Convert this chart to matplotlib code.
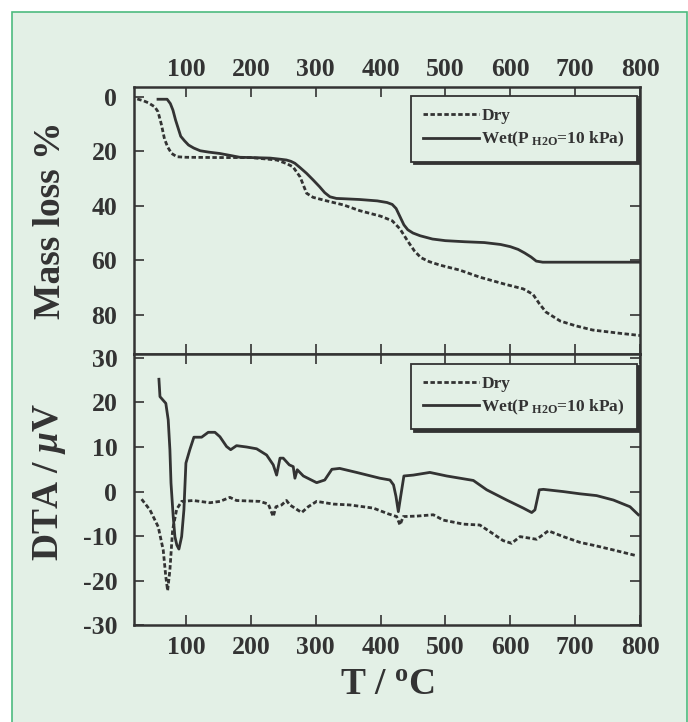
# mass loss and DTA curves, dry vs wet atmosphere

import matplotlib
matplotlib.use("Agg")
import matplotlib.pyplot as plt
from matplotlib.patches import Rectangle

# ---- data ----
dry_T = [25, 35, 42, 52, 57, 62, 67, 72, 78, 86, 100, 150, 200, 240, 255, 265, 276, 286, 296,
         317, 343, 368, 400, 418, 430, 442, 452, 462, 475, 492, 522, 553, 592, 620, 635, 645,
         655, 665, 677, 700, 727, 769, 800]
dry_M = [0.8, 1.5, 2.2, 3.7, 5.5, 10, 15.5, 18.5, 20.8, 22, 22.2, 22.3, 22.3, 23.2, 24.5, 25.7,
         29.4, 35.4, 36.9, 38.2, 39.7, 41.8, 43.8, 45.5, 48.5, 53, 56.5, 59, 60.5, 61.8, 63.6,
         66.2, 68.8, 70.5, 72.5, 76, 79, 80.5, 82.3, 84, 85.6, 86.8, 87.6]

wet_T = [57, 71, 76, 80, 84, 88, 92, 98, 104, 112, 122, 135, 152, 170, 183, 200, 230, 245, 255,
         262, 268, 276, 286, 296, 306, 314, 322, 332, 342, 368, 395, 410, 418, 424, 430, 436,
         442, 450, 461, 480, 500, 530, 560, 585, 600, 612, 622, 632, 640, 650, 700, 800]
wet_M = [0.9, 0.9, 2.5, 4.9, 8.5, 11.5, 14.5, 16.2, 17.7, 18.8, 19.8, 20.3, 20.8, 21.6, 22.2,
         22.3, 22.5, 22.9, 23.2, 23.7, 24.4, 26, 28.1, 30.5, 33, 35.2, 36.7, 37.3, 37.4, 37.7,
         38.2, 38.8, 39.5, 41, 44, 47, 48.8, 50, 51, 52.2, 52.8, 53.2, 53.5, 54.2, 55, 56, 57.3,
         58.8, 60.3, 60.7, 60.7, 60.7]

dta_wet_T = [58.4, 60, 69, 72.7, 75.3, 77, 80.4, 83, 86, 89.2, 93.4, 96.9, 100, 106, 112.3, 124.2,
             134.4, 144.7, 152.4, 162.7, 169, 178, 193.6, 209, 224.4, 234.6, 239.8, 245, 250,
             259.3, 265.4, 268, 271.6, 281, 301.5, 314, 325, 337, 363, 399, 414.5, 420, 423.8,
             427.4, 431, 436, 450.5, 476, 502, 543, 563.6, 594.5, 620, 633, 638, 644.7, 651,
             681.7, 707.5, 733, 759, 784.5, 797.4]
dta_wet = [25.2, 21.3, 19.8, 16.1, 9.4, 1.9, -5.6, -10.1, -12, -12.9, -10.1, -4.1, 6.4, 9.4, 12.2,
           12.2, 13.3, 13.3, 12.3, 10.1, 9.4, 10.3, 10.0, 9.6, 8.2, 6.0, 3.7, 7.5, 7.5, 6.0, 5.6,
           3.0, 4.9, 3.5, 2.0, 2.6, 5.0, 5.2, 4.3, 3.0, 2.6, 1.5, -1.1, -4.5, -1.1, 3.5, 3.7, 4.3,
           3.5, 2.5, 0.4, -1.9, -3.7, -4.7, -4.1, 0.4, 0.5, 0, -0.5, -0.9, -1.9, -3.4, -5.2]

dta_dry_T = [31.7, 44.5, 57.3, 65, 69, 71.8, 75.3, 79.5, 85.7, 93.4, 111.3, 137, 152.4, 167.8,
             178, 214, 227, 234.6, 238.8, 247.5, 255, 260.3, 278.4, 288.5, 301.5, 327, 352.8,
             388.8, 412, 424.8, 430, 435, 455.7, 481.3, 496.7, 527.6, 553, 568.7, 589, 602, 615,
             640.7, 658.6, 681.7, 707.5, 733, 759, 795]
dta_dry = [-1.7, -4.1, -7.9, -13.1, -19.1, -22.2, -17.6, -8.6, -4.0, -2.2, -2.0, -2.5, -2.2, -1.3,
           -2.0, -2.2, -2.8, -5.6, -3.4, -3.0, -2.0, -3.0, -4.7, -3.4, -2.2, -2.8, -3.0, -3.7,
           -5.0, -5.6, -7.5, -5.6, -5.5, -5.2, -6.4, -7.3, -7.5, -9.0, -11.0, -11.6, -10.1, -10.7,
           -8.8, -10.1, -11.4, -12.2, -13.1, -14.4]

x_ticks = [100, 200, 300, 400, 500, 600, 700, 800]
mass_ticks = [0, 20, 40, 60, 80]
dta_ticks = [-30, -20, -10, 0, 10, 20, 30]

label_dry = "Dry"
label_wet = r"Wet(P$_{\ \mathrm{H2O}}$=10 kPa)"

# ---- style ----
bg = "#e3f0e6"
ink = "#333333"
plt.rcParams["font.family"] = "Liberation Serif"
plt.rcParams["font.weight"] = "bold"
plt.rcParams["axes.unicode_minus"] = False
plt.rcParams["mathtext.fontset"] = "custom"
plt.rcParams["mathtext.rm"] = "Liberation Serif:bold"
plt.rcParams["mathtext.bf"] = "Liberation Serif:bold"
plt.rcParams["mathtext.it"] = "Liberation Serif:italic:bold"

fig = plt.figure(figsize=(6.88, 7.22), dpi=100, facecolor="white")
frame = Rectangle((12 / 688, -0.01), 675 / 688, 0.994, transform=fig.transFigure,
                  facecolor=bg, edgecolor="#4dbb7f", lw=1.2, zorder=-10)
fig.patches.append(frame)

ax1 = fig.add_axes([0.1948, 0.5093, 0.7355, 0.3706])
ax2 = fig.add_axes([0.1948, 0.1339, 0.7355, 0.3754])

dash = (0, (1.6, 0.9))

ax1.plot(dry_T, dry_M, color=ink, lw=2.0, ls=dash, label=label_dry)
ax1.plot(wet_T, wet_M, color=ink, lw=2.0, label=label_wet)
ax2.plot(dta_dry_T, dta_dry, color=ink, lw=2.0, ls=dash, label=label_dry)
ax2.plot(dta_wet_T, dta_wet, color=ink, lw=2.0, label=label_wet)

ax1.set_xlim(20, 800)
ax1.set_ylim(94.5, -3.7)
ax2.set_xlim(20, 800)
ax2.set_ylim(-30, 30.8)

for ax in (ax1, ax2):
    ax.set_facecolor(bg)
    ax.set_xticks(x_ticks)
    for s in ax.spines.values():
        s.set_linewidth(1.8)
        s.set_color(ink)
    ax.tick_params(direction="in", length=7, width=1.2, color=ink,
                   top=True, bottom=True, left=True, right=True,
                   labelsize=18.5, labelcolor=ink, pad=12)
    leg = ax.legend(loc="upper right", bbox_to_anchor=(0.994, 0.966), borderaxespad=0,
                    fontsize=12.5, handlelength=3.2, handletextpad=0.15, labelspacing=0.35,
                    borderpad=0.7, frameon=True, fancybox=False, framealpha=1,
                    shadow={"color": ink, "alpha": 1})
    leg.get_frame().set_facecolor(bg)
    leg.get_frame().set_edgecolor(ink)
    leg.get_frame().set_linewidth(1.3)
    for t in leg.get_texts():
        t.set_color(ink)

ax1.set_yticks(mass_ticks)
ax1.tick_params(labeltop=True, labelbottom=False)
ax1.tick_params(axis="x", pad=4)
ax2.set_yticks(dta_ticks)
ax2.tick_params(axis="x", pad=8)

ax1.set_ylabel("Mass loss %", fontsize=27, fontweight="bold", color=ink)
ax1.yaxis.set_label_coords(-0.13, 0.5)
ax2.set_ylabel(r"DTA / $\mu$V", fontsize=27, fontweight="bold", color=ink)
ax2.yaxis.set_label_coords(-0.13, 0.53)
ax2.set_xlabel(r"T / $^{\mathrm{o}}$C", fontsize=27, fontweight="bold", color=ink, labelpad=6)

fig.savefig("out.png", dpi=100, facecolor="white")
